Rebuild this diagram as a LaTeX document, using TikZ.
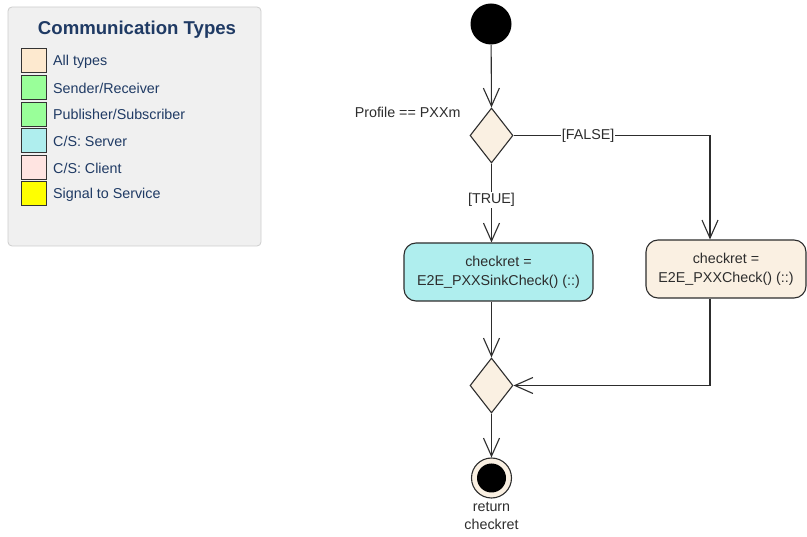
\documentclass[tikz,border=0pt]{standalone}
\usepackage{fontspec}
\setmainfont{Liberation Sans}
\usetikzlibrary{shapes.geometric,arrows.meta,positioning}
\definecolor{legendbg}{RGB}{240,240,240}
\definecolor{legendline}{RGB}{205,205,205}
\definecolor{legendtxt}{RGB}{31,58,100}
\definecolor{alltypes}{RGB}{253,233,207}
\definecolor{srgreen}{RGB}{153,255,153}
\definecolor{server}{RGB}{175,238,238}
\definecolor{client}{RGB}{255,228,225}
\definecolor{sigserv}{RGB}{255,255,0}
\definecolor{linen}{RGB}{250,240,226}
\definecolor{ink}{RGB}{45,45,45}
\tikzstyle{line} = [draw, ink, line width=1.1pt, -{Straight Barb[length=18pt,width=16pt]}]

\begin{document}
\begin{tikzpicture}[x=1pt, y=-1pt,
		font=\fontsize{14.3}{19}\selectfont,
		activity/.style={draw=ink, line width=1.1pt, rectangle, rounded corners=12pt,
			minimum height=58pt, align=center, text=ink, inner sep=2pt},
		choice/.style={draw=ink, line width=1.1pt, diamond, fill=linen,
			minimum width=43pt, minimum height=55pt, inner sep=0pt},
		swatch/.style={draw=black!80, line width=1pt, minimum width=25pt,
			minimum height=24pt, inner sep=0pt},
		guard/.style={fill=white, inner sep=1pt, text=ink}]
		\useasboundingbox (0,0) rectangle (807,537);
		%% Legend
		\node [draw=legendline, fill=legendbg, rounded corners=4pt, line width=0.8pt,
			minimum width=253pt, minimum height=239pt] (legend) at (134.5,126.5) {};
		\node [text=legendtxt, font=\fontsize{18.6}{22}\selectfont\bfseries] (title) at (137,30) {Communication Types};
		\foreach \col/\name [count=\i] in {alltypes/{All types}, srgreen/{Sender/Receiver},
			srgreen/{Publisher/Subscriber}, server/{C/S: Server}, client/{C/S: Client},
			sigserv/{Signal to Service}} {
			\node [swatch, fill=\col] (sw\i) at (33.5,{61+26.6*(\i-1)}) {};
			\node [anchor=west, text=legendtxt, inner sep=0pt] (lt\i) at (53,{61.5+26.6*(\i-1)}) {\name};
		}
		%% Activity
		\node [circle, fill=black, minimum size=41pt, inner sep=0pt] (start) at (491,24) {};
		\node [choice] (decide) at (491.5,135.5) {};
		\node [anchor=east, text=ink] (cond) at (464,112) {Profile == PXXm};
		\node [activity, fill=server, minimum width=189pt] (sink) at (498.5,272)
			{checkret =\\E2E\_PXXSinkCheck() (::)};
		\node [activity, fill=linen, minimum width=160pt] (check) at (726,269)
			{checkret =\\E2E\_PXXCheck() (::)};
		\node [choice] (merge) at (491.5,385.5) {};
		\node [circle, draw=ink, line width=1.1pt, fill=linen, minimum size=40pt, inner sep=0pt] (final) at (491.5,478) {};
		\fill [black] (final.center) circle (14.5);
		\node [below=0pt of final, align=center, text=ink, font=\fontsize{14.3}{18}\selectfont] (ret) {return\\checkret};
		\coordinate (fin) at ([xshift=-16pt]check.north);
		\coordinate (fout) at ([xshift=-16pt]check.south);
		%% Links
		\path [line] (start) to (decide.north);
		\path [line] (decide.south) -- node [guard, pos=0.46] {[TRUE]} (sink.north -| decide.south);
		\path [line] (decide.east) -- node [guard, pos=0.38] {[FALSE]} (decide.east -| fin) -- (fin);
		\path [line] (sink.south -| merge.north) -- (merge.north);
		\path [line] (fout) |- (merge.east);
		\path [line] (merge.south) -- (final.north);
\end{tikzpicture}
\end{document}
